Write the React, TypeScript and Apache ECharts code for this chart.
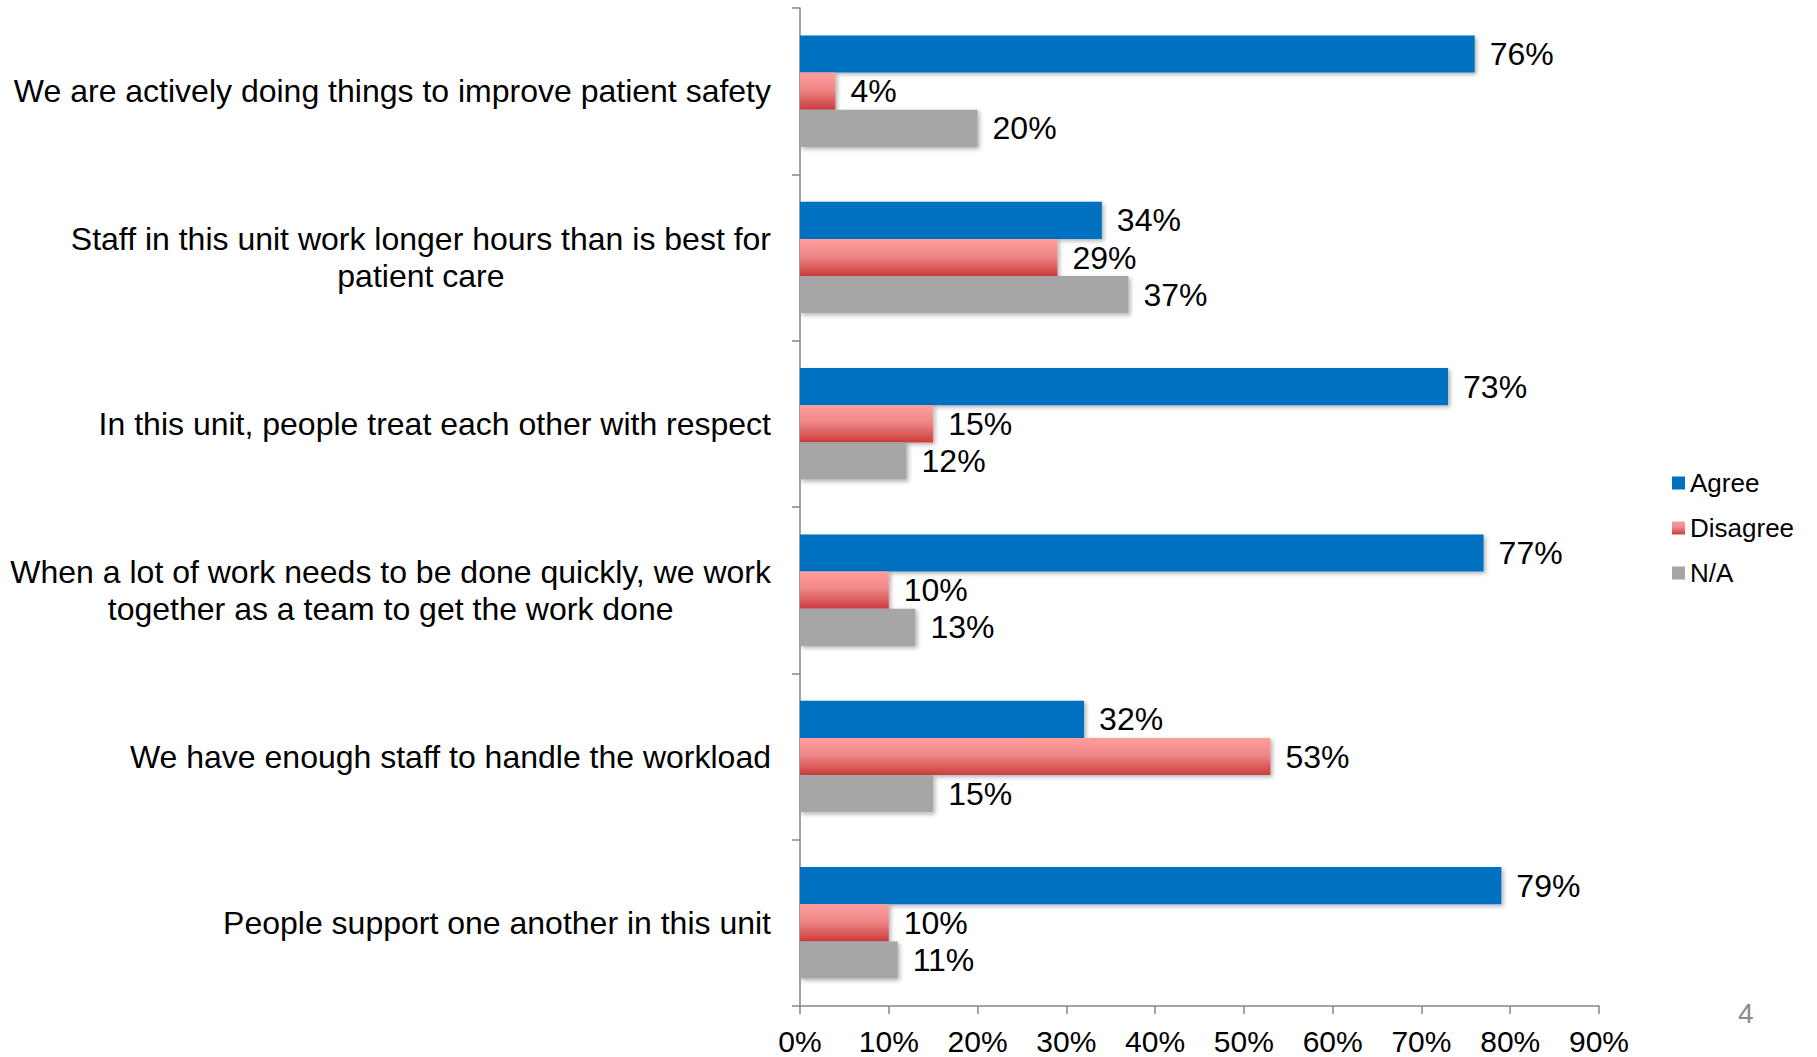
import React, { useEffect, useRef } from "react";
import * as echarts from "echarts";

const categories = [
  "We are actively doing things to improve patient safety",
  "Staff in this unit work longer hours than is best for\npatient care",
  "In this unit, people treat each other with respect",
  "When a lot of work needs to be done quickly, we work\ntogether as a team to get the work done",
  "We have enough staff to handle the workload",
  "People support one another in this unit",
];
const agree = [76, 34, 73, 77, 32, 79];
const disagree = [4, 29, 15, 10, 53, 10];
const na = [20, 37, 12, 13, 15, 11];
const seriesNames = ["Agree", "Disagree", "N/A"];
const pageNumber = "4";

const FONT = "'Liberation Sans', Arial, sans-serif";

export default function App() {
  const ref = useRef<HTMLDivElement>(null);
  useEffect(() => {
    document.body.style.margin = "0";
    const chart = echarts.init(ref.current!, null, { renderer: "svg" });
    const shadow = {
      shadowBlur: 4,
      shadowOffsetX: 2,
      shadowOffsetY: 2,
      shadowColor: "rgba(0,0,0,0.3)",
    };
    const label = {
      show: true,
      position: "right",
      distance: 15,
      formatter: "{c}%",
      color: "#000",
      fontSize: 32,
      fontFamily: FONT,
    };
    const disagreeGrad = new echarts.graphic.LinearGradient(0, 0, 0, 1, [
      { offset: 0, color: "#FF9E9E" },
      { offset: 0.45, color: "#F08888" },
      { offset: 1, color: "#CC3C3C" },
    ]);
    chart.setOption({
      animation: false,
      textStyle: { fontFamily: FONT },
      grid: {
        left: 800,
        right: 218,
        top: 8,
        bottom: 51,
        containLabel: false,
        outerBoundsMode: "none",
      },
      legend: {
        orient: "vertical",
        left: 1667,
        top: 465,
        itemWidth: 13,
        itemHeight: 13,
        itemGap: 19,
        icon: "rect",
        textStyle: { fontSize: 26, color: "#000", fontFamily: FONT },
        data: seriesNames,
      },
      xAxis: {
        type: "value",
        min: 0,
        max: 90,
        interval: 10,
        axisLine: { show: true, lineStyle: { color: "#868686", width: 1.5 } },
        axisTick: { show: true, length: 8, lineStyle: { color: "#868686", width: 1.5 } },
        splitLine: { show: false },
        axisLabel: {
          formatter: "{value}%",
          fontSize: 30,
          lineHeight: 30,
          color: "#000",
          fontFamily: FONT,
          margin: 20,
        },
      },
      yAxis: {
        type: "category",
        inverse: true,
        data: categories,
        axisLine: { show: true, lineStyle: { color: "#868686", width: 1.5 } },
        axisTick: { show: true, length: 8, lineStyle: { color: "#868686", width: 1.5 } },
        axisLabel: {
          align: "right",
          margin: 29,
          color: "#000",
          fontSize: 32,
          fontFamily: FONT,
          lineHeight: 37,
          formatter: (v: string) =>
            v
              .split("\n")
              .map((l) => `{c|${l}}`)
              .join("\n"),
          rich: {
            c: { align: "center", fontSize: 32, lineHeight: 37, color: "#000", fontFamily: FONT },
          },
        },
      },
      graphic: [
        {
          type: "text",
          left: 1738,
          top: 999,
          style: { text: pageNumber, fontSize: 28, fill: "#8C8C8C", fontFamily: FONT },
        },
      ],
      series: [
        {
          name: seriesNames[0],
          type: "bar",
          data: agree,
          barGap: "0%",
          barCategoryGap: "33%",
          itemStyle: { color: "#0070C0", ...shadow },
          label,
        },
        {
          name: seriesNames[1],
          type: "bar",
          data: disagree,
          barGap: "0%",
          barCategoryGap: "33%",
          itemStyle: { color: disagreeGrad, ...shadow },
          label,
        },
        {
          name: seriesNames[2],
          type: "bar",
          data: na,
          barGap: "0%",
          barCategoryGap: "33%",
          itemStyle: { color: "#A6A6A6", ...shadow },
          label,
        },
      ],
    });
    return () => chart.dispose();
  }, []);
  return <div ref={ref} style={{ width: 1817, height: 1057 }} />;
}
